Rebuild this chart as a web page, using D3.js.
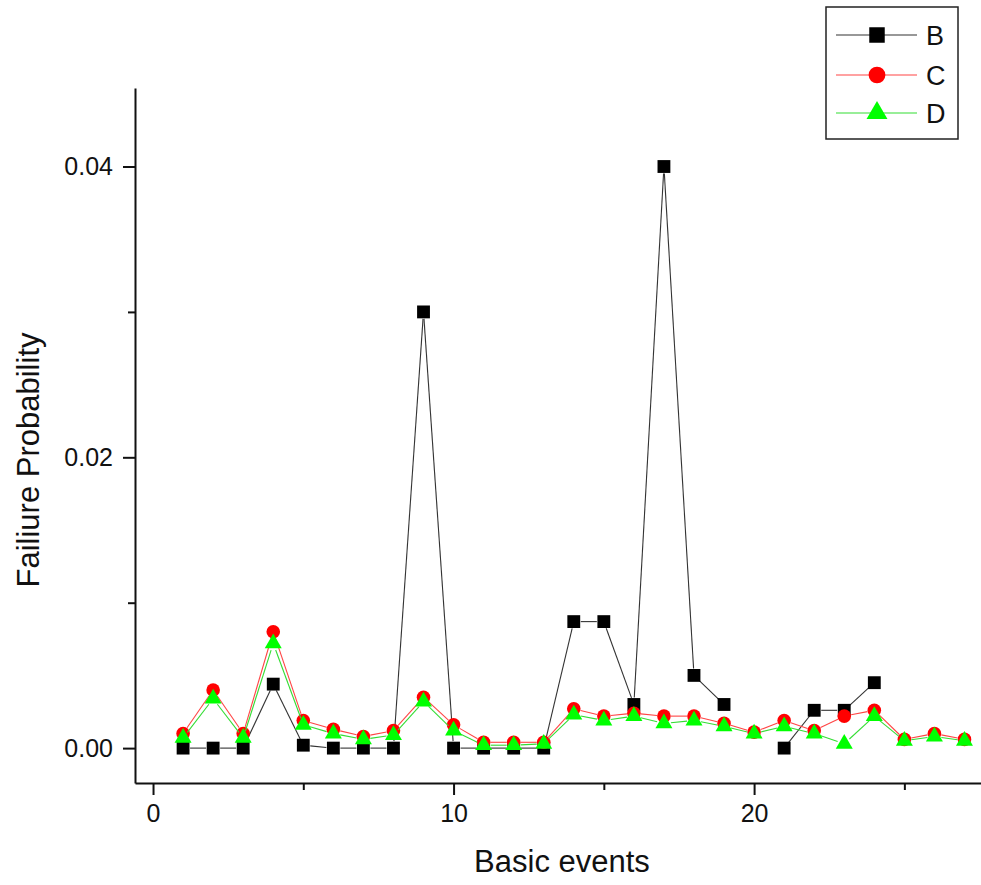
<!DOCTYPE html>
<html>
<head>
<meta charset="utf-8">
<script src="https://cdn.jsdelivr.net/npm/d3@7"></script>
<style>
  body { margin: 0; background: #fff; }
  text { font-family: Arial, "Liberation Sans", sans-serif; }
</style>
</head>
<body>
<svg id="chart"></svg>
<script>
// data
var events = [1, 2, 3, 4, 5, 6, 7, 8, 9, 10, 11, 12, 13, 14, 15, 16, 17, 18, 19, 20, 21, 22, 23, 24, 25, 26, 27];
var seriesB = [0, 0, 0, 0.0044, 0.0002, 0, 0, 0, 0.030, 0, 0, 0, 0, 0.0087, 0.0087, 0.0030, 0.040, 0.0050, 0.0030, null, 0, 0.0026, 0.0026, 0.0045, null, null, null];
var seriesC = [0.0010, 0.0040, 0.0010, 0.0080, 0.0019, 0.0013, 0.0008, 0.0012, 0.0035, 0.0016, 0.0004, 0.0004, 0.0004, 0.0027, 0.0022, 0.0024, 0.0022, 0.0022, 0.0017, 0.0011, 0.0019, 0.0012, 0.0022, 0.0026, 0.0006, 0.0010, 0.0006];
var seriesD = [0.0007, 0.0034, 0.0007, 0.0072, 0.0016, 0.0010, 0.0006, 0.0009, 0.0032, 0.0012, 0.0002, 0.0002, 0.0003, 0.0023, 0.0019, 0.0022, 0.0017, 0.0019, 0.0015, 0.0010, 0.0015, 0.0010, 0.0003, 0.0022, 0.0005, 0.0008, 0.0005];
var seriesNames = ["B", "C", "D"];
var xMajorTicks = [0, 10, 20];
var xMinorTicks = [5, 15, 25];
var yMajorTicks = [0, 0.02, 0.04];
var yMinorTicks = [0.01, 0.03];

var width = 981;
var height = 885;

var svg = d3.select("#chart")
  .attr("width", width)
  .attr("height", height);

var x = d3.scaleLinear().domain([-0.6, 27.55]).range([135, 981]);
var y = d3.scaleLinear().domain([-0.0024, 0.0454]).range([783, 88]);

// axes
svg.append("g")
  .attr("transform", "translate(0,783)")
  .call(d3.axisBottom(x).tickValues(xMajorTicks).tickFormat(d3.format("d"))
    .tickSize(12).tickSizeOuter(0).tickPadding(9));

svg.append("g")
  .attr("transform", "translate(0,783)")
  .call(d3.axisBottom(x).tickValues(xMinorTicks).tickFormat("").tickSize(7).tickSizeOuter(0))
  .select(".domain").remove();

svg.append("g")
  .attr("transform", "translate(135,0)")
  .call(d3.axisLeft(y).tickValues(yMajorTicks).tickFormat(d3.format(".2f"))
    .tickSize(12).tickSizeOuter(0).tickPadding(10));

svg.append("g")
  .attr("transform", "translate(135,0)")
  .call(d3.axisLeft(y).tickValues(yMinorTicks).tickFormat("").tickSize(7).tickSizeOuter(0))
  .select(".domain").remove();

svg.selectAll(".domain").attr("stroke", "#111").attr("stroke-width", 2);
svg.selectAll(".tick line").attr("stroke", "#111").attr("stroke-width", 2);
svg.selectAll(".tick text").attr("font-size", 25).attr("fill", "#111")
  .attr("font-family", "Arial, 'Liberation Sans', sans-serif");

// axis titles
svg.append("text")
  .attr("x", 562)
  .attr("y", 872)
  .attr("text-anchor", "middle")
  .attr("font-size", 31)
  .attr("fill", "#111")
  .text("Basic events");

svg.append("text")
  .attr("transform", "translate(39,460) rotate(-90)")
  .attr("text-anchor", "middle")
  .attr("font-size", 31)
  .attr("fill", "#111")
  .text("Failiure Probability");

// series styles
var styles = [
  { data: seriesB, line: "#333", fill: "#000", symbol: d3.symbolSquare, size: 165, legendSize: 240 },
  { data: seriesC, line: "#f44", fill: "#ff0000", symbol: d3.symbolCircle, size: 145, legendSize: 220 },
  { data: seriesD, line: "#3d3", fill: "#00ff00", symbol: d3.symbolTriangle, size: 125, legendSize: 190 }
];

var gap = 7;

styles.forEach(function (s) {
  var g = svg.append("g");
  // line segments with a gap around each symbol
  for (var i = 0; i < events.length - 1; i++) {
    if (s.data[i] == null || s.data[i + 1] == null) continue;
    var x1 = x(events[i]), y1 = y(s.data[i]);
    var x2 = x(events[i + 1]), y2 = y(s.data[i + 1]);
    var len = Math.sqrt((x2 - x1) * (x2 - x1) + (y2 - y1) * (y2 - y1));
    if (len <= 2 * gap + 1) continue;
    var ux = (x2 - x1) / len, uy = (y2 - y1) / len;
    g.append("line")
      .attr("x1", x1 + ux * gap)
      .attr("y1", y1 + uy * gap)
      .attr("x2", x2 - ux * gap)
      .attr("y2", y2 - uy * gap)
      .attr("stroke", s.line)
      .attr("stroke-width", 1.1);
  }
  g.selectAll("path.pt")
    .data(events.filter(function (d, i) { return s.data[i] != null; }))
    .enter()
    .append("path")
    .attr("class", "pt")
    .attr("d", d3.symbol().type(s.symbol).size(s.size))
    .attr("transform", function (d) {
      return "translate(" + x(d) + "," + y(s.data[events.indexOf(d)]) + ")";
    })
    .attr("fill", s.fill);
});

// legend
var legend = svg.append("g");
legend.append("rect")
  .attr("x", 826)
  .attr("y", 7)
  .attr("width", 132)
  .attr("height", 132)
  .attr("fill", "#fff")
  .attr("stroke", "#222")
  .attr("stroke-width", 1.5);

var legendY = [35, 75, 113];
styles.forEach(function (s, i) {
  legend.append("line")
    .attr("x1", 836)
    .attr("x2", 917)
    .attr("y1", legendY[i])
    .attr("y2", legendY[i])
    .attr("stroke", s.line)
    .attr("stroke-width", 1.1);
  legend.append("path")
    .attr("d", d3.symbol().type(s.symbol).size(s.legendSize))
    .attr("transform", "translate(877," + legendY[i] + ")")
    .attr("fill", s.fill);
  legend.append("text")
    .attr("x", 926)
    .attr("y", legendY[i] + 10)
    .attr("font-size", 27)
    .attr("fill", "#111")
    .text(seriesNames[i]);
});
</script>
</body>
</html>
